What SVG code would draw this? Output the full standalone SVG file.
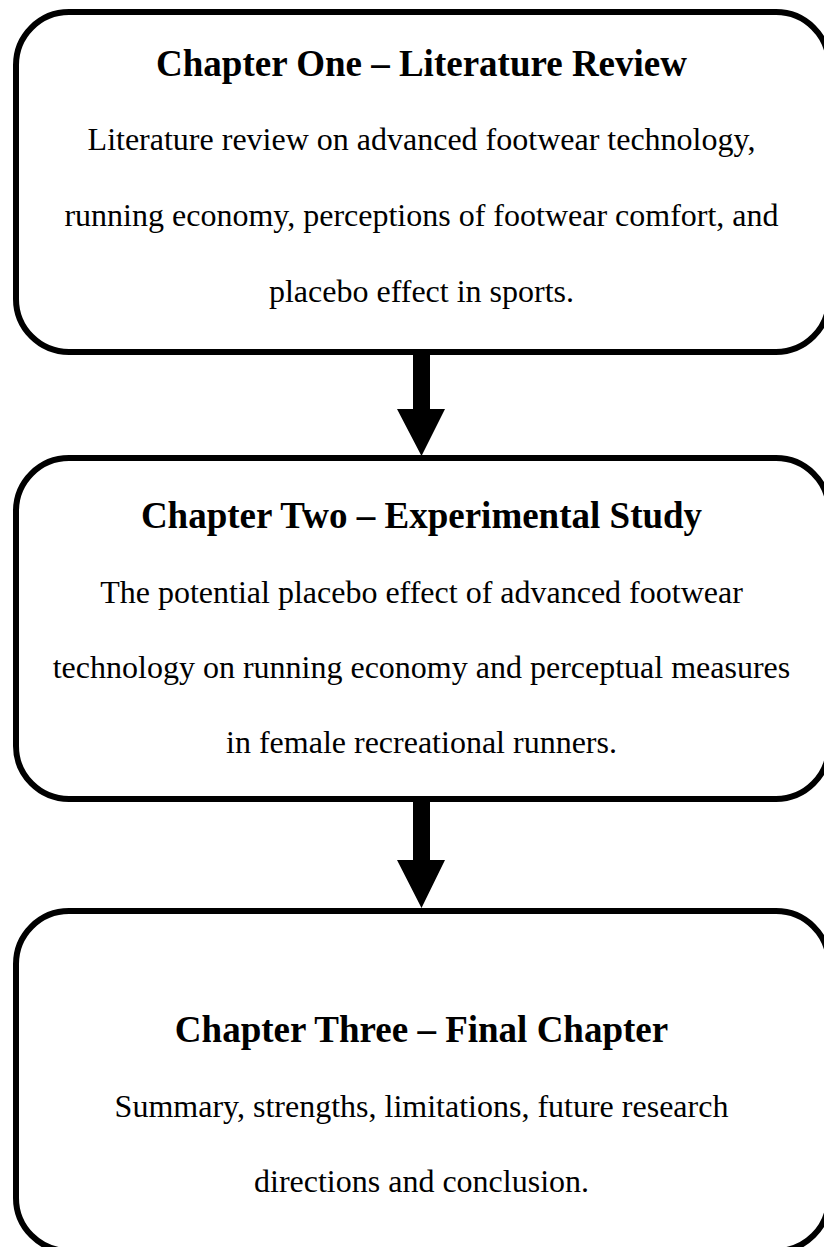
<svg xmlns="http://www.w3.org/2000/svg" width="824" height="1247" viewBox="0 0 824 1247">
<style>
.box{fill:#fff;stroke:#000;stroke-width:6}
.t{font-family:"Liberation Serif","Times New Roman",serif;font-weight:bold;font-size:37px;text-anchor:middle;fill:#000}
.b{font-family:"Liberation Serif","Times New Roman",serif;font-size:32px;text-anchor:middle;fill:#000}
.arr{fill:#000}
</style>
<rect width="824" height="1247" fill="#fff"/>
<g id="node1">
<rect class="box" x="16" y="12" width="813" height="340" rx="53" ry="53"/>
<text class="t" x="421.5" y="76">Chapter One – Literature Review</text>
<text class="b" x="421.5" y="150">Literature review on advanced footwear technology,</text>
<text class="b" x="421.5" y="226">running economy, perceptions of footwear comfort, and</text>
<text class="b" x="421.5" y="302">placebo effect in sports.</text>
</g>
<g id="node2">
<rect class="box" x="16" y="458" width="813" height="341" rx="53" ry="53"/>
<text class="t" x="421.5" y="528">Chapter Two – Experimental Study</text>
<text class="b" x="421.5" y="603">The potential placebo effect of advanced footwear</text>
<text class="b" x="421.5" y="678">technology on running economy and perceptual measures</text>
<text class="b" x="421.5" y="753">in female recreational runners.</text>
</g>
<g id="node3">
<rect class="box" x="16" y="911" width="813" height="340" rx="53" ry="53"/>
<text class="t" x="421.5" y="1042">Chapter Three – Final Chapter</text>
<text class="b" x="421.5" y="1117">Summary, strengths, limitations, future research</text>
<text class="b" x="421.5" y="1192">directions and conclusion.</text>
</g>
<g id="connectors">
<polygon class="arr" points="413,355 430,355 430,409 445,409 421.5,456 397,409 413,409"/>
<polygon class="arr" points="413,802 430,802 430,860 445,860 421.5,908 397,860 413,860"/>
</g>
</svg>
